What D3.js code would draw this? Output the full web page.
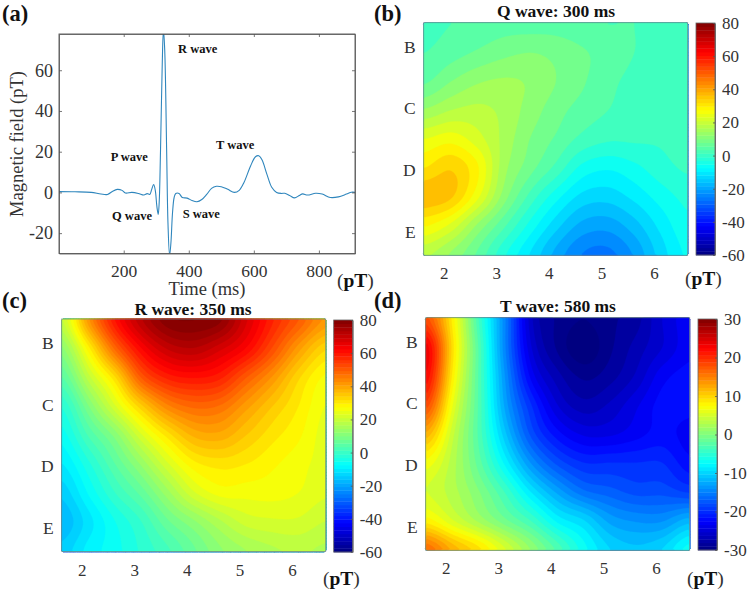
<!DOCTYPE html>
<html>
<head>
<meta charset="utf-8">
<title>Magnetic field maps</title>
<script src="https://cdn.jsdelivr.net/npm/d3@7"></script>
<style>
  html, body { margin: 0; padding: 0; background: #fff; }
  svg { display: block; }
  text { font-family: "Liberation Serif", serif; fill: #333; }
  .bold { font-weight: bold; fill: #111; }
  .axis path, .axis line { stroke: #555; stroke-width: 0.8; }
</style>
</head>
<body>
<div id="chart"></div>
<script>
// trace in panel (a)
var timeMs = [1, 50, 100, 130, 150, 165, 180, 195, 205, 225, 245, 262, 272, 280, 286, 292, 297, 302, 306, 309, 313, 318, 322, 326, 332, 336, 341, 345, 350, 355, 360, 370, 380, 395, 410, 425, 440, 455, 470, 485, 500, 520, 540, 555, 570, 590, 605, 615, 625, 640, 655, 670, 685, 695, 710, 725, 740, 750, 765, 790, 810, 835, 860, 885, 900, 911];
var fieldPT = [0.4, 0.3, 0, -0.8, -1, 0.5, 1.5, 1, -0.3, 0, -0.5, -1.3, -0.6, -1, 1.5, 3.9, 1, -7, -10.8, -5, 20, 60, 80, 70, 20, -15, -31, -25, -10, -2.5, -0.5, -0.5, -2.5, -2.8, -4, -4.6, -3.5, -1, 2, 3, 2.8, 1.5, 0, 1, 5, 13, 17.5, 18, 16, 9, 2.5, 0, -0.5, -0.4, -1.5, -2.7, -1.5, -0.7, -1.3, -0.4, -0.8, -2.5, -2.2, -0.8, 0.1, 0];
var timeTicks = [200, 400, 600, 800];
var fieldTicks = [-20, 0, 20, 40, 60];
var waveNames = ['P wave', 'Q wave', 'R wave', 'S wave', 'T wave'];

// map panels: columns go left to right, rows top to bottom
var columnTicks = [2, 3, 4, 5, 6];
var rowLabels = ['B', 'C', 'D', 'E'];

var qWaveField = [
  [2, 3, 4, 5, 5, 5, 4, 3, 3, 1, 2],
  [3, 5, 7, 9, 10, 9, 7, 5, 3, 2, 2],
  [6, 10, 13, 14, 13, 10, 7, 4, 2, 1, 1],
  [14, 17, 18, 16, 12, 8, 5, 3, 1, 1, 1],
  [24, 26, 22, 16, 10, 6, 2, 0, 0, 0, 1],
  [31, 34, 28, 15, 8, 2, -5, -7, -5, -2, 0],
  [37, 35, 25, 12, 2, -6, -12, -13, -10, -6, -3],
  [28, 23, 13, 4, -5, -13, -19, -20, -16, -10, -5],
  [18, 13, 6, -3, -11, -19, -25, -26, -21, -13, -7]
];
var rWaveField = [
  [20, 42, 60, 72, 79, 80, 78, 68, 58, 50, 42],
  [12, 29, 48, 62, 70, 72, 68, 62, 52, 41, 33],
  [5, 19, 32, 50, 58, 60, 58, 50, 42, 33, 27],
  [-2, 10, 22, 34, 44, 48, 47, 41, 35, 30, 25],
  [-6, 3, 11, 22, 31, 38, 39, 35, 31, 28, 24],
  [-10, -3, 5, 13, 22, 29, 31, 30, 28, 26, 24],
  [-14, -7, 0, 6, 14, 22, 26, 26, 26, 25, 23],
  [-17, -11, -5, 0, 7, 12, 17, 21, 22, 22, 20],
  [-14, -9, -6, -2, 2, 7, 12, 15, 17, 18, 17]
];
var tWaveField = [
  [18, 8, -4, -15, -26, -29, -30, -29, -28, -25, -23],
  [23, 9, -3, -15, -25, -29, -31, -29, -27, -25, -23],
  [22, 8, -3, -14, -23, -27, -29, -28, -26, -23, -22],
  [18, 6, -3, -13, -20, -25, -27, -26, -24, -22, -22],
  [12, 4, -3, -11, -18, -22, -24, -24, -23, -22, -23],
  [7, 3, -2, -8, -14, -18, -20, -20, -20, -20, -22],
  [5, 3, 0, -4, -9, -13, -16, -17, -18, -18, -19],
  [8, 5, 2, -1, -4, -8, -10, -13, -14, -14, -12],
  [16, 12, 9, 5, 1, -3, -7, -10, -11, -10, -7]
];
var wideBarTicks = [-60, -40, -20, 0, 20, 40, 60, 80];
var narrowBarTicks = [-30, -20, -10, 0, 10, 20, 30];

var jetStops = ['#000080', '#0000ff', '#00ffff', '#ffff00', '#ff0000', '#800000'];
var jetPlaces = [0, 1 / 8, 3 / 8, 5 / 8, 7 / 8, 1];

var svg = d3.select('#chart').append('svg').attr('width', 749).attr('height', 595);
var defs = svg.append('defs');

function label(txt, x, y, size, cls, anchor){
    return svg.append('text').attr('x', x).attr('y', y).attr('font-size', size)
	.attr('class', cls || null).attr('text-anchor', anchor || 'start').text(txt);
}

function unitLabel(x, y){
    var t = svg.append('text').attr('x', x).attr('y', y).attr('font-size', 19.5);
    t.append('tspan').text('(');
    t.append('tspan').attr('class', 'bold').attr('font-weight', 'bold').text('pT');
    t.append('tspan').text(')');
}

function jetScale(domain){
    var lo = domain[0], hi = domain[1];
    return d3.scaleLinear()
	.domain(jetPlaces.map(function(p){return lo + p * (hi - lo)}))
	.range(jetStops).clamp(true);
}

// Catmull-Rom weights for the map surface, the picture itself is a smooth contourf
function cubic(a, b, c, d, t){
    return b + 0.5 * t * (c - a + t * (2 * a - 5 * b + 4 * c - d + t * (3 * (b - c) + d - a)));
}
function sampleGrid(grid, factor){
    var rows = grid.length, cols = grid[0].length;
    var w = (cols - 1) * factor + 1, h = (rows - 1) * factor + 1;
    var out = new Array(w * h);
    function at(r, c){
	return grid[Math.max(0, Math.min(rows - 1, r))][Math.max(0, Math.min(cols - 1, c))];
    }
    for(var j = 0; j < h; j++){
	var ry = j / factor, r0 = Math.min(Math.floor(ry), rows - 2), ty = ry - r0;
	for(var i = 0; i < w; i++){
	    var cx = i / factor, c0 = Math.min(Math.floor(cx), cols - 2), tx = cx - c0;
	    var line = [-1, 0, 1, 2].map(function(dr){
		return cubic(at(r0 + dr, c0 - 1), at(r0 + dr, c0), at(r0 + dr, c0 + 1), at(r0 + dr, c0 + 2), tx);
	    });
	    out[j * w + i] = cubic(line[0], line[1], line[2], line[3], ty);
	}
    }
    return {values: out, width: w, height: h};
}

function drawTrace(){
    var box = {left: 59, right: 355, top: 34, bottom: 253.5};
    var x = d3.scaleLinear().domain([1, 911]).range([box.left, box.right]);
    var y = d3.scaleLinear().domain([-30, 77.8]).range([box.bottom, box.top]);

    defs.append('clipPath').attr('id', 'traceClip').append('rect')
	.attr('x', box.left).attr('y', box.top)
	.attr('width', box.right - box.left).attr('height', box.bottom - box.top);

    var line = d3.line()
	.x(function(d, i){return x(timeMs[i])})
	.y(function(d){return y(d)})
	.curve(d3.curveCatmullRom.alpha(0.5));
    svg.append('path').datum(fieldPT)
	.attr('clip-path', 'url(#traceClip)')
	.attr('d', line).attr('fill', 'none')
	.attr('stroke', '#2f86bd').attr('stroke-width', 1.1);

    var bottom = svg.append('g').attr('class', 'axis').attr('transform', 'translate(0,' + box.bottom + ')')
	.call(d3.axisBottom(x).tickValues(timeTicks).tickSize(-3).tickPadding(11).tickSizeOuter(0));
    bottom.selectAll('text').attr('font-size', 17.5).attr('font-family', null);
    svg.append('g').attr('class', 'axis').attr('transform', 'translate(0,' + box.top + ')')
	.call(d3.axisTop(x).tickValues(timeTicks).tickSize(-3).tickFormat('').tickSizeOuter(0));
    var left = svg.append('g').attr('class', 'axis').attr('transform', 'translate(' + box.left + ',0)')
	.call(d3.axisLeft(y).tickValues(fieldTicks).tickSize(-3).tickPadding(6).tickSizeOuter(0)
	      .tickFormat(function(d){return d}));
    left.selectAll('text').attr('font-size', 18).attr('font-family', null);
    svg.append('g').attr('class', 'axis').attr('transform', 'translate(' + box.right + ',0)')
	.call(d3.axisRight(y).tickValues(fieldTicks).tickSize(-3).tickFormat('').tickSizeOuter(0));
    svg.append('rect').attr('x', box.left).attr('y', box.top)
	.attr('width', box.right - box.left).attr('height', box.bottom - box.top)
	.attr('fill', 'none').attr('stroke', '#555').attr('stroke-width', 0.9);

    label('Time (ms)', 207, 295, 18.5, null, 'middle');
    svg.append('text').attr('transform', 'translate(23,144) rotate(-90)')
	.attr('font-size', 18.5).attr('text-anchor', 'middle').text('Magnetic field (pT)');

    var spots = [[110.7, 161], [112, 220], [178, 53], [182.7, 218], [216, 149]];
    waveNames.forEach(function(name, i){
	label(name, spots[i][0], spots[i][1], 12.5, 'bold');
    });
}

function drawMap(p){
    var x = d3.scaleLinear().domain([1.62, 6.64]).range([p.left, p.left + 264]);
    var y = d3.scaleLinear().domain([0.61, 4.38]).range([p.top, p.top + 232.6]);
    var color = jetScale(p.range);

    var factor = 10;
    var sampled = sampleGrid(p.field, factor);
    var gx = d3.scaleLinear().domain([0, sampled.width]).range(x.range());
    var gy = d3.scaleLinear().domain([0, sampled.height]).range(y.range());
    var path = d3.geoPath(d3.geoTransform({
	point: function(a, b){this.stream.point(gx(a), gy(b))}
    }));
    var levels = d3.range(p.range[0] - p.step, p.range[1] + p.step, p.step);
    var bands = d3.contours().size([sampled.width, sampled.height])
	.thresholds(levels).smooth(true)(sampled.values);

    svg.append('g').selectAll('path').data(bands).enter().append('path')
	.attr('d', path)
	.attr('fill', function(d){return color(d.value + p.step / 2)})
	.attr('stroke', function(d){return color(d.value + p.step / 2)})
	.attr('stroke-width', 0.3);

    svg.append('rect').attr('x', p.left).attr('y', p.top).attr('width', 264).attr('height', 232.6)
	.attr('fill', 'none').attr('stroke', '#6f8a8a').attr('stroke-width', 0.8);

    var bottom = svg.append('g').attr('transform', 'translate(0,' + (p.top + 232.6) + ')')
	.call(d3.axisBottom(x).tickValues(columnTicks).tickSize(0).tickPadding(12).tickFormat(d3.format('d')));
    bottom.select('.domain').remove();
    bottom.selectAll('text').attr('font-size', 17).attr('font-family', null);

    rowLabels.forEach(function(name, i){
	label(name, p.left - 8, y(i + 1) + 6, 17.5, null, 'end');
    });

    // colour bar
    var bar = d3.scaleLinear().domain(p.range).range([p.barBottom, p.barTop]);
    var slices = d3.range(64).map(function(i){return p.range[0] + i * (p.range[1] - p.range[0]) / 64});
    var sliceSize = (p.range[1] - p.range[0]) / 64;
    svg.append('g').selectAll('rect').data(slices).enter().append('rect')
	.attr('x', p.barLeft).attr('width', 19)
	.attr('y', function(d){return bar(d + sliceSize)})
	.attr('height', function(d){return bar(d) - bar(d + sliceSize) + 0.4})
	.attr('fill', function(d){return color(d + sliceSize / 2)});
    svg.append('rect').attr('x', p.barLeft).attr('y', p.barTop).attr('width', 19)
	.attr('height', p.barBottom - p.barTop)
	.attr('fill', 'none').attr('stroke', '#666').attr('stroke-width', 0.8);
    var side = svg.append('g').attr('class', 'axis').attr('transform', 'translate(' + (p.barLeft + 19) + ',0)')
	.call(d3.axisRight(bar).tickValues(p.ticks).tickSize(-2).tickPadding(7).tickSizeOuter(0)
	      .tickFormat(function(d){return d}));
    side.selectAll('text').attr('font-size', 17).attr('font-family', null);

    label(p.title, p.titleX, p.titleY, 17.5, 'bold', 'middle');
}

drawTrace();
drawMap({field: qWaveField, range: [-60, 80], step: 3.5, ticks: wideBarTicks, title: 'Q wave: 300 ms',
	 left: 423.7, top: 22.7, barLeft: 696, barTop: 23, barBottom: 255, titleX: 556, titleY: 17});
drawMap({field: rWaveField, range: [-60, 80], step: 2.5, ticks: wideBarTicks, title: 'R wave: 350 ms',
	 left: 61.7, top: 319, barLeft: 333.7, barTop: 320, barBottom: 552, titleX: 193, titleY: 314.5});
drawMap({field: tWaveField, range: [-30, 30], step: 1.25, ticks: narrowBarTicks, title: 'T wave: 580 ms',
	 left: 425.7, top: 317.7, barLeft: 698, barTop: 319, barBottom: 550, titleX: 558, titleY: 312});

label('(a)', 2, 20.5, 22.5, 'bold');
label('(b)', 374, 20.5, 22.5, 'bold');
label('(c)', 2, 308, 22.5, 'bold');
label('(d)', 374, 308, 22.5, 'bold');
unitLabel(337, 287);
unitLabel(685, 285);
unitLabel(323, 585);
unitLabel(687, 585);
</script>
</body>
</html>
